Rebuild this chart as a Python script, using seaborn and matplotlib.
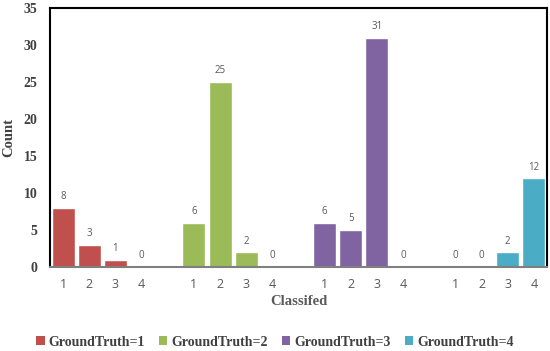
import numpy as np
import pandas as pd
import matplotlib
matplotlib.use("Agg")
import matplotlib.pyplot as plt
from matplotlib.patches import Patch
import seaborn as sns

GROUPS = ["GroundTruth=1", "GroundTruth=2", "GroundTruth=3", "GroundTruth=4"]
CLASSES = ["1", "2", "3", "4"]
COUNTS = {
    "GroundTruth=1": [8, 3, 1, 0],
    "GroundTruth=2": [6, 25, 2, 0],
    "GroundTruth=3": [6, 5, 31, 0],
    "GroundTruth=4": [0, 0, 2, 12],
}
PAL = {
    "GroundTruth=1": "#C0504D",
    "GroundTruth=2": "#9BBB59",
    "GroundTruth=3": "#8064A2",
    "GroundTruth=4": "#4BACC6",
}

rows = []
order = []
for gi, g in enumerate(GROUPS):
    for c, v in zip(CLASSES, COUNTS[g]):
        key = f"{g}|{c}"
        rows.append({"slot": key, "count": v, "group": g})
        order.append(key)
    if gi < len(GROUPS) - 1:
        order.append(f"gap{gi}")
df = pd.DataFrame(rows)

sns.set_style("white")
serif = ["Liberation Serif", "DejaVu Serif"]
sans = ["Open Sans", "DejaVu Sans"]

fig = plt.figure(figsize=(5.5, 3.51), dpi=100)
ax = fig.add_axes([50 / 550, 1 - 267 / 351, 497 / 550, 259 / 351])
sns.barplot(data=df, x="slot", y="count", hue="group", order=order,
            palette=PAL, dodge=False, width=0.88, saturation=1,
            legend=False, ax=ax)

for cont in ax.containers:
    ax.bar_label(cont, padding=4, fontsize=7, color="#595959", family=sans)

ax.set_ylim(0, 35)
ax.set_xlim(-0.5, len(order) - 0.5)
ax.set_yticks(np.arange(0, 36, 5))
ax.set_yticklabels([str(v) for v in range(0, 36, 5)], family=serif,
                   fontsize=10, fontweight="bold", color="#404040")
ax.set_xticks(range(len(order)))
ax.set_xticklabels(["" if k.startswith("gap") else k.split("|")[1] for k in order],
                   family=sans, fontsize=9, color="#595959")
ax.tick_params(axis="both", length=0)
ax.tick_params(axis="x", pad=8)
ax.tick_params(axis="y", pad=9)

ax.set_xlabel("Classifed", family=serif, fontsize=10.5, fontweight="bold",
              color="#595959", labelpad=3)
ax.set_ylabel("Count", family=serif, fontsize=10.5, fontweight="bold",
              color="#404040", labelpad=6)

for side in ["top", "left", "right"]:
    ax.spines[side].set_visible(True)
    ax.spines[side].set_color("black")
    ax.spines[side].set_linewidth(1.5)
ax.spines["bottom"].set_color("#7F7F7F")
ax.spines["bottom"].set_linewidth(1.5)

handles = [Patch(facecolor=PAL[g], edgecolor="none", label=g) for g in GROUPS]
fig.legend(handles=handles, loc="center", bbox_to_anchor=(0.5, 0.025),
           ncol=4, frameon=False, handlelength=0.6, handleheight=0.6,
           handletextpad=0.3, columnspacing=1.0,
           prop={"family": serif, "weight": "bold", "size": 10})
for t in fig.legends[0].get_texts():
    t.set_color("#404040")

fig.savefig("out.png", dpi=100)
